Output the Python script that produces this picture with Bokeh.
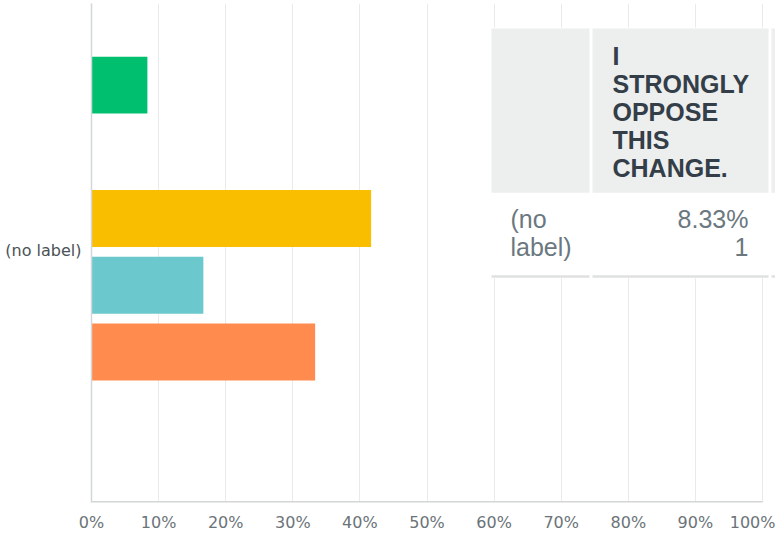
from bokeh.plotting import figure
from bokeh.models import (Range1d, FixedTicker, CustomJSTickFormatter, BoxAnnotation, Label)
from bokeh.embed import file_html
from bokeh.resources import INLINE

# ---------------- data ----------------
categories = ["(no label)"]
series = ["I strongly oppose this change.", "I oppose this change.",
          "I neither support nor oppose this change.", "I support this change.",
          "I strongly support this change."]
values = [8.33, 0.0, 41.67, 16.67, 33.33]      # percent
counts = [1, 0, 5, 2, 4]
colors = ["#00BF6F", "#507CB6", "#F9BE00", "#6BC8CD", "#FF8B4F"]
x_ticks = [0, 10, 20, 30, 40, 50, 60, 70, 80, 90, 100]

# ---------------- layout helpers (pixel -> data) ----------------
X0, XS = 91.0, 6.71      # image x of 0%, px per percent
Y0, YS = 84.7, 66.8      # image y of first bar centre, px per slot
def dx(px):
    return (px - X0) / XS
def dy(py):
    return (py - Y0) / YS

p = figure(width=775, height=534, output_backend="svg", toolbar_location=None,
           x_range=Range1d(0, dx(775)), y_range=Range1d(dy(502.5), dy(3)),
           min_border_left=91, min_border_right=0, min_border_top=3, min_border_bottom=31)
p.title.visible = False
p.outline_line_color = None
p.background_fill_color = "white"
p.border_fill_color = "white"

# bars
pos = list(range(len(series)))
p.hbar(y=pos, left=0, right=values, height=0.853, fill_color=colors, line_color=None)

# axes
p.xaxis.ticker = FixedTicker(ticks=x_ticks)
p.xaxis.formatter = CustomJSTickFormatter(code="return tick + '%'")
p.xaxis.major_tick_line_color = None
p.xaxis.minor_tick_line_color = None
p.xaxis.major_tick_out = 0
p.xaxis.major_label_standoff = 10
p.xaxis.axis_label_standoff = 0
p.xaxis.axis_line_color = None
p.xaxis.major_label_text_font = "DejaVu Sans"
p.xaxis.major_label_text_font_size = "16px"
p.xaxis.major_label_text_color = "#6b7378"

p.yaxis.ticker = FixedTicker(ticks=[dy(250)])
p.yaxis.formatter = CustomJSTickFormatter(args=dict(lab=categories[0]), code="return lab")
p.yaxis.major_tick_line_color = None
p.yaxis.minor_tick_line_color = None
p.yaxis.major_tick_out = 0
p.yaxis.major_label_standoff = 10
p.yaxis.axis_label_standoff = 0
p.yaxis.axis_line_color = "#d3d5d6"
p.yaxis.axis_line_width = 1.5
p.yaxis.major_label_text_font = "DejaVu Sans"
p.yaxis.major_label_text_font_size = "16px"
p.yaxis.major_label_text_color = "#4b5257"

p.xgrid.ticker = FixedTicker(ticks=x_ticks)
p.xgrid.grid_line_color = "#e9eaea"
p.ygrid.grid_line_color = None

# bottom axis line, only up to 100 %
p.add_layout(BoxAnnotation(left=0, right=x_ticks[-1], top=dy(501), bottom=dy(503),
                           fill_color="#d3d5d6", fill_alpha=1.0, line_color=None, line_alpha=0))

# ---------------- table overlay ----------------
def box(l, r, t, b, color):
    p.add_layout(BoxAnnotation(left=dx(l), right=dx(r), top=dy(t), bottom=dy(b),
                               fill_color=color, fill_alpha=1.0, line_color=None,
                               line_alpha=0))

box(489, 780, 27, 278, "white")
header_gray = "#edeeee"
line_gray = "#dfe0e0"
box(491, 589, 28, 192.5, header_gray)
box(592, 768, 28, 192.5, header_gray)
box(771, 780, 28, 192.5, header_gray)
box(491, 589, 275, 277.5, line_gray)
box(592, 768, 275, 277.5, line_gray)
box(771, 780, 275, 277.5, line_gray)

header_text = "\n".join(series[0].upper().split(" "))
p.add_layout(Label(x=dx(612), y=dy(111.5), text=header_text, text_align="left",
                   text_baseline="middle", text_font="Liberation Sans",
                   text_font_style="bold", text_font_size="25px",
                   text_line_height=1.0, text_color="#333e48"))
cat_text = "\n".join(categories[0].split(" "))
p.add_layout(Label(x=dx(510), y=dy(232.5), text=cat_text, text_align="left",
                   text_baseline="middle", text_font="Liberation Sans",
                   text_font_size="25px", text_line_height=1.0, text_color="#6b787f"))
p.add_layout(Label(x=dx(748), y=dy(232.5), text=f"{values[0]:.2f}%\n{counts[0]}",
                   text_align="right", text_baseline="middle", text_font="Liberation Sans",
                   text_font_size="25px", text_line_height=1.0, text_color="#6b787f"))

open("out.html", "w").write(file_html(p, INLINE))
